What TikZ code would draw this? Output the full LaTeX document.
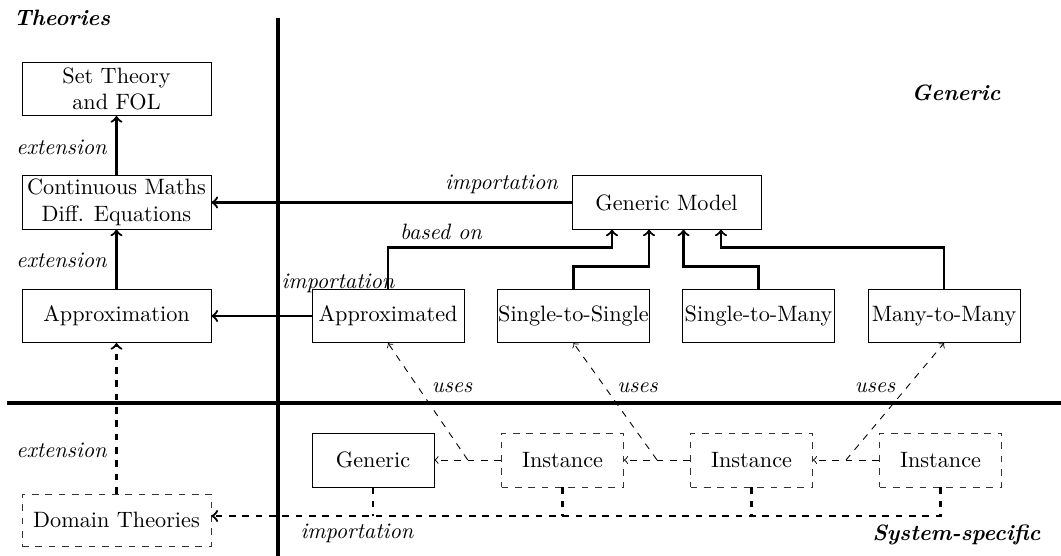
\documentclass[tikz,border=0pt]{standalone}
\usetikzlibrary{calc}
\begin{document}
\begin{tikzpicture}[x=0.45pt,y=-0.45pt,
  box/.style={draw,thin,align=center,inner sep=1pt},
  lbox/.style={box,minimum width=85pt,minimum height=23.9pt},
  mbox/.style={box,minimum width=68.4pt,minimum height=24pt,inner sep=0.3pt},
  sbox/.style={box,minimum width=54.9pt,minimum height=24.3pt},
  dsbox/.style={sbox,dashed,draw=black!80},
  dlbox/.style={lbox,dashed,draw=black!80},
  conn/.style={line width=1pt,->},
  dconn/.style={line width=1pt,dashed,->},
  dline/.style={line width=1pt,dashed},
  uconn/.style={dashed,->},
  lab/.style={font=\itshape},
  ttl/.style={font=\bfseries\itshape},
  axis/.style={line width=1.4pt}]
\useasboundingbox (0,0) rectangle (1061,556);

% axes
\draw[axis] (278,18) -- (278,556);
\draw[axis] (7,403) -- (1061,403);

% titles
\node[ttl] (tth) at (62,18) {Theories};
\node[ttl] (tge) at (956,93) {Generic};
\node[ttl] (tss) at (956.5,535) {System-specific};

% left column
\node[lbox] (set) at (116.5,89) {Set Theory\\and FOL};
\node[lbox] (cont) at (116.5,202.5) {Continuous Maths\\Diff. Equations};
\node[lbox] (approx) at (116.5,316) {Approximation};
\node[dlbox,minimum height=23.4pt] (dom) at (116.5,520) {Domain Theories};

% generic
\node[lbox] (gm) at (666.5,202.5) {Generic Model};
\node[mbox] (apd) at (388,316) {Approximated};
\node[mbox] (s2s) at (573.5,316) {Single-to-Single};
\node[mbox] (s2m) at (758.5,316) {Single-to-Many};
\node[mbox] (m2m) at (944,316) {Many-to-Many};

% system-specific
\node[sbox] (gen) at (373,460) {Generic};
\node[dsbox] (i1) at (562.5,460) {Instance};
\node[dsbox] (i2) at (751.5,460) {Instance};
\node[dsbox] (i3) at (940.5,460) {Instance};

% extension arrows
\draw[conn] (cont.north) -- (set.south);
\draw[conn] (approx.north) -- (cont.south);
\draw[dconn] (dom.north) -- (approx.south);
\node[lab] (e1) at (61.5,147) {extension};
\node[lab] (e2) at (61.5,260) {extension};
\node[lab] (e3) at (61.5,450) {extension};

% importation arrows
\draw[conn] (gm.west) -- (cont.east);
\draw[conn] (apd.west) -- (approx.east);
\node[lab] (im1) at (501.5,184) {importation};
\node[lab] (im2) at (338,283) {importation};

% based on
\draw[conn] (apd.north) |- ($(gm.south)+(-54.5,18)$) -- ($(gm.south)+(-54.5,0)$);
\draw[conn] (s2s.north) |- ($(gm.south)+(-17.5,37)$) -- ($(gm.south)+(-17.5,0)$);
\draw[conn] (s2m.north) |- ($(gm.south)+(17,37)$) -- ($(gm.south)+(17,0)$);
\draw[conn] (m2m.north) |- ($(gm.south)+(54.5,18)$) -- ($(gm.south)+(54.5,0)$);
\node[lab] (bo) at (441,232) {based on};

% uses
\draw[uconn] (i1.west) -- (gen.east);
\draw[uconn] (i2.west) -- (i1.east);
\draw[uconn] (i3.west) -- (i2.east);
\coordinate (u1) at ($(gen.east)!0.5!(i1.west)$);
\coordinate (u2) at ($(i1.east)!0.5!(i2.west)$);
\coordinate (u3) at ($(i2.east)!0.5!(i3.west)$);
\draw[uconn] (u1) -- (apd.south);
\draw[uconn] (u2) -- (s2s.south);
\draw[uconn] (u3) -- (m2m.south);
\node[lab] (us1) at (452,388) {uses};
\node[lab] (us2) at (637.5,388) {uses};
\node[lab] (us3) at (875,388) {uses};

% bottom importation bus
\coordinate (bus) at (0,516);
\draw[dconn] (i3.south) |- (dom.east |- bus);
\draw[dline] (gen.south) -- (gen.south |- bus);
\draw[dline] (i1.south) -- (i1.south |- bus);
\draw[dline] (i2.south) -- (i2.south |- bus);
\node[lab] (im3) at (357,533) {importation};
\end{tikzpicture}
\end{document}
